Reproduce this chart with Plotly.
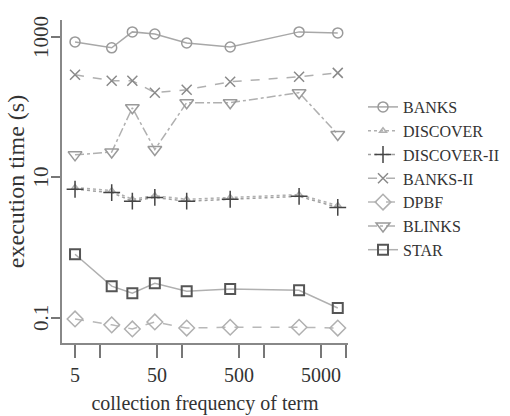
import math
import plotly.graph_objects as go

freq = [5, 14, 25, 47, 115, 390, 2700, 8000]
banks = [850, 700, 1180, 1100, 820, 720, 1180, 1140]
discover = [7.2, 6.5, 4.9, 5.5, 4.9, 5.2, 5.7, 4.0]
discover2 = [6.8, 6.1, 4.6, 5.2, 4.6, 4.9, 5.4, 3.75]
banks2 = [290, 238, 238, 161, 177, 230, 271, 308]
dpbf = [0.097, 0.080, 0.070, 0.088, 0.072, 0.074, 0.074, 0.072]
blinks = [21, 23, 98, 25, 116, 116, 161, 41]
star = [0.81, 0.284, 0.226, 0.313, 0.241, 0.258, 0.249, 0.139]

x_tickvals = [5, 10, 50, 100, 500, 1000, 5000, 10000]
x_ticktext = ["5", "", "50", "", "500", "", "5000", ""]
y_tickvals = [0.1, 10, 1000]
y_ticktext = ["0.1", "10", "1000"]

FONT = "Liberation Serif"
TXT = "#333333"

series = [
    ("BANKS", banks, "solid", "circle-open", 10, "#a8a8a8", "#9a9a9a"),
    ("DISCOVER", discover, "dot", "triangle-up-open", 6, "#b0b0b0", "#b0b0b0"),
    ("DISCOVER-II", discover2, "dot", "cross-thin-open", 12, "#a0a0a0", "#444444"),
    ("BANKS-II", banks2, "dash", "x-thin-open", 10, "#b0b0b0", "#8a8a8a"),
    ("DPBF", dpbf, "dash", "diamond-open", 12, "#b8b8b8", "#b0b0b0"),
    ("BLINKS", blinks, "dashdot", "triangle-down-open", 12, "#b0b0b0", "#9a9a9a"),
    ("STAR", star, "solid", "square-open", 10, "#b0b0b0", "#555555"),
]

fig = go.Figure()
for name, vals, dash, sym, size, lc, mc in series:
    fig.add_trace(go.Scatter(
        x=freq, y=vals, name=name, mode="lines+markers", legendgroup=name,
        line=dict(color=lc, width=1.5, dash=dash),
        marker=dict(symbol=sym, size=size, color=mc,
                    line=dict(color=mc, width=2 if name == "STAR" else 1.5)),
    ))

for v, t in zip(y_tickvals, y_ticktext):
    fig.add_annotation(x=(41 - 62) / 286, xref="paper", y=math.log10(v), yref="y",
                       xanchor="center", yanchor="middle",
                       text=t, textangle=-90, showarrow=False,
                       font=dict(size=21, family=FONT, color=TXT))

fig.update_layout(
    width=510, height=416,
    margin=dict(l=62, r=162, t=20, b=73, autoexpand=False),
    paper_bgcolor="white", plot_bgcolor="white",
    font=dict(family=FONT, color=TXT, size=20),
    showlegend=True,
    legend=dict(x=(363 - 62) / 286, y=(416 - 73 - 90) / 323, xanchor="left", yanchor="top",
                font=dict(family=FONT, size=16, color=TXT), itemwidth=30,
                tracegroupgap=0, traceorder="grouped", bgcolor="rgba(0,0,0,0)"),
    xaxis=dict(type="log", range=[0.540, 4.028], tickvals=x_tickvals, ticktext=x_ticktext,
               automargin=False,
               showgrid=False, zeroline=False, showline=True, linecolor="#888888", linewidth=2,
               ticks="outside", ticklen=13, tickwidth=2, tickcolor="#777777",
               ticklabelstandoff=0,
               tickfont=dict(size=20, family=FONT, color=TXT),
               title=dict(text="collection frequency of term", standoff=11,
                          font=dict(size=20, family=FONT, color=TXT))),
    yaxis=dict(type="log", range=[-1.355, 3.241], tickvals=y_tickvals, showticklabels=False,
               automargin=False,
               showgrid=False, zeroline=False, showline=True, linecolor="#888888", linewidth=2,
               ticks="outside", ticklen=9, tickwidth=2, tickcolor="#777777",
               title=dict(text="execution time (s)", standoff=20,
                          font=dict(size=24, family=FONT, color=TXT))),
)

fig.write_html("out.html", config={"displayModeBar": False},
               post_script="document.body.style.margin='0';")
